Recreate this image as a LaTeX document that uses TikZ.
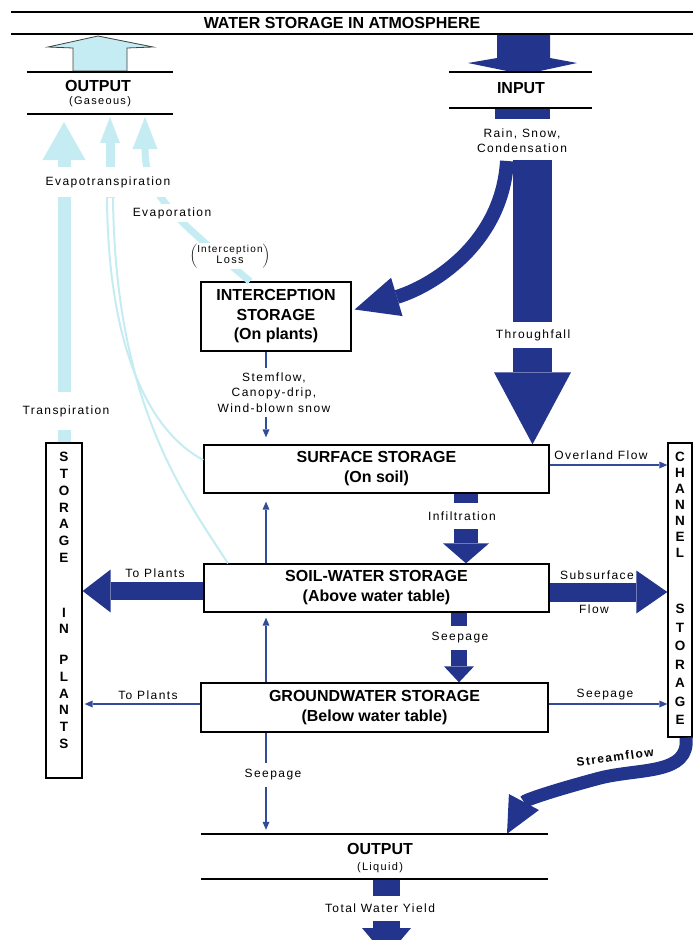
\documentclass[tikz,border=0pt]{standalone}
\usepackage{fontspec}
\setmainfont{Liberation Sans}
\newfontfamily\lblfam[LetterSpace=12]{Liberation Sans}
\usetikzlibrary{arrows.meta,calc}
\definecolor{navy}{RGB}{35,52,140}
\definecolor{thinb}{RGB}{50,75,155}
\definecolor{lblue}{RGB}{196,236,242}
\newcommand\bxf{\fontsize{16}{20}\selectfont\bfseries}
\newcommand\lbf{\lblfam\fontsize{12}{15.5}\selectfont}
\begin{document}
\begin{tikzpicture}[x=1pt,y=-1pt,
  box/.style={draw=black,line width=1.3pt,fill=white,inner sep=0pt,align=center,font=\bxf},
  band/.style={inner sep=0pt},
  hline/.style={draw=black,line width=2.4pt},
  lbl/.style={inner sep=1pt,align=center,font=\lbf},
  wlbl/.style={lbl,fill=white},
  thinarr/.style={draw=thinb,line width=2.2pt,-{Triangle[length=8pt,width=7pt,line width=0pt]}},
  vlet/.style={inner sep=0pt,align=center}
]
\useasboundingbox (0,0) rectangle (693,940);
\clip (0,0) rectangle (693,940);

% ---------- bands with lines ----------
\node[band,minimum width=682pt,minimum height=22pt] (atm) at (352,23) {};
\node[font=\bxf,inner sep=0pt] (atmT) at (342,23) {WATER STORAGE IN ATMOSPHERE};
\draw[black,line width=2pt] (atm.north west) -- (atm.north east);
\draw[black,line width=2pt] (atm.south west) -- (atm.south east);

\node[band,minimum width=146pt,minimum height=42pt] (gas) at (100,93) {};
\node[font=\bxf,inner sep=0pt] (gasT1) at (98,86) {OUTPUT};
\node[font=\lblfam\fontsize{11}{13}\selectfont,inner sep=0pt] (gasT2) at (100,102) {(Gaseous)};

\node[band,minimum width=143pt,minimum height=36pt] (inp) at (520.5,90) {};
\node[font=\bxf,inner sep=0pt] (inpT) at (521,88) {INPUT};

\node[band,minimum width=347pt,minimum height=45pt] (outL) at (374.5,856.5) {};
\node[font=\bxf,inner sep=0pt] (outT1) at (380,849) {OUTPUT};
\node[font=\lblfam\fontsize{11}{13}\selectfont,inner sep=0pt] (outT2) at (380,868) {(Liquid)};

% ---------- storage boxes ----------
\node[box,minimum width=150pt,minimum height=69pt,font=\fontsize{16}{19.5}\selectfont\bfseries] (intc) at (276,316.5) {INTERCEPTION\\STORAGE\\(On plants)};
\node[box,minimum width=345pt,minimum height=48pt] (surf) at (376.5,469) {SURFACE STORAGE\\(On soil)};
\node[box,minimum width=345pt,minimum height=48pt] (soil) at (376.5,588) {SOIL-WATER STORAGE\\(Above water table)};
\node[box,minimum width=347pt,minimum height=49pt] (grnd) at (374.5,707.5) {GROUNDWATER STORAGE\\(Below water table)};
\node[box,minimum width=36pt,minimum height=335pt] (plants) at (64,610.5) {};
\node[vlet,font=\fontsize{13.5}{16.7}\selectfont\bfseries] (plantsT) at (64,600.5)
  {S\\T\\O\\R\\A\\G\\E\\[38.3pt]I\\N\\[14.3pt]P\\L\\A\\N\\T\\S};
\node[box,minimum width=24pt,minimum height=294pt] (chan) at (680,590) {};
\node[vlet,font=\fontsize{13.5}{16}\selectfont\bfseries] (chanA) at (680,505) {C\\H\\A\\N\\N\\E\\L};
\node[vlet,font=\fontsize{13.5}{18.5}\selectfont\bfseries] (chanB) at (680,664.5) {S\\T\\O\\R\\A\\G\\E};

% ---------- reference coordinates ----------
\coordinate (stemx) at (266,0);
\coordinate (thrx) at (532.5,0);
\coordinate (infx) at (466,0);
\coordinate (seepx) at (459,0);
\coordinate (tpy) at (0,591);
\coordinate (ssy) at (0,592);
\coordinate (ovy) at (0,465);
\coordinate (gwy) at (0,704);
\coordinate (sfx) at (507,0);
\coordinate (sfsx) at (686,0);
\coordinate (twyx) at (386.5,0);
\coordinate (twyEnd) at (386.5,957);
\coordinate (bx228) at (228,0);
\coordinate (lbx) at (250,0);
\coordinate (curveTop) at (507,161);
\coordinate (thrTop) at (532.5,160);
\coordinate (ltip) at (0,122);
\coordinate (evA) at (107,197);
\coordinate (evB) at (113,197);
\coordinate (evC) at (110,198);
\coordinate (evT) at (110,117);
\coordinate (epM) at (145,150);
\coordinate (epT) at (145,117);

% ---------- light blue (gaseous) flows ----------
\filldraw[fill=lblue,draw=black!75,line width=0.8pt]
  (73,71) -- (73,48) -- (48,47) -- (98,36) -- (153,47) -- (127,48) -- (127,71) -- cycle;
\draw[lblue,line width=13pt,-{Triangle[length=38pt,width=43pt,line width=0pt]}] (plants.north) -- (plants.north |- ltip);
\draw[lblue,line width=2pt] ($(surf.west)+(0,-9)$) .. controls (150,432) and (108,350) .. (evA);
\draw[lblue,line width=2pt] (soil.north -| bx228) .. controls (180,490) and (115,400) .. (evB);
\draw[lblue,line width=9pt,-{Triangle[length=26pt,width=20pt,line width=0pt]}] (evC) -- (evT);
\draw[lblue,line width=7pt,-{Triangle[length=32pt,width=25pt,line width=0pt]}]
  (intc.north -| lbx) .. controls (180,222) and (145,195) .. (epM) -- (epT);

% ---------- dark blue (liquid) flows ----------
\fill[navy] (497,35) -- (550,35) -- (550,58) -- (577,63) -- (540,71) -- (507,71) -- (468,63) -- (497,58) -- cycle;
\fill[navy] (495,108) rectangle (550,119);
\draw[navy,line width=39pt,-{Triangle[length=72pt,width=77pt,line width=0pt]}] (thrTop) -- (surf.north -| thrx);
\draw[navy,line width=14pt,-{Triangle[length=44pt,width=40pt,line width=0pt]}]
  (curveTop) .. controls (502,245) and (430,287) .. ($(intc.east)+(3,-7)$);
\draw[navy,line width=24pt,-{Triangle[length=20pt,width=46pt,line width=0pt]}] (surf.south -| infx) -- (soil.north -| infx);
\draw[navy,line width=16pt,-{Triangle[length=16pt,width=30pt,line width=0pt]}] (soil.south -| seepx) -- (grnd.north -| seepx);
\draw[navy,line width=18pt,-{Triangle[length=28pt,width=43pt,line width=0pt]}] (soil.west |- tpy) -- (plants.east |- tpy);
\draw[navy,line width=19pt,-{Triangle[length=31pt,width=43pt,line width=0pt]}] (soil.east |- ssy) -- (chan.west |- ssy);
\draw[navy,line width=13pt,-{Triangle[length=36pt,width=34pt,line width=0pt]}]
  (chan.south -| sfsx) .. controls (690,775) and (640,768) .. (600,778)
  .. controls (555,790) and (525,800) .. (outL.north -| sfx);
\draw[navy,line width=27pt,-{Triangle[length=29pt,width=49pt,line width=0pt]}] (outL.south -| twyx) -- (twyEnd);

% ---------- thin flows ----------
\draw[thinarr,shorten >=7pt] (intc.south -| stemx) -- (surf.north -| stemx);
\draw[thinarr,shorten >=8pt] (soil.north -| stemx) -- (surf.south -| stemx);
\draw[thinarr,shorten >=5pt] (grnd.north -| stemx) -- (soil.south -| stemx);
\draw[thinarr,shorten >=4pt] (grnd.south -| stemx) -- (outL.north -| stemx);
\draw[thinarr] (surf.east |- ovy) -- (chan.west |- ovy);
\draw[thinarr,shorten >=2pt] (grnd.west |- gwy) -- (plants.east |- gwy);
\draw[thinarr] (grnd.east |- gwy) -- (chan.west |- gwy);

% ---------- band lines ----------
\draw[hline] (gas.north west) -- (gas.north east);
\draw[hline] (gas.south west) -- (gas.south east);
\draw[hline] (inp.north west) -- (inp.north east);
\draw[hline] (inp.south west) -- (inp.south east);
\draw[hline] (outL.north west) -- (outL.north east);
\draw[hline] (outL.south west) -- (outL.south east);

% ---------- labels ----------
\node[lbl] (lRain) at (522,140.5) {Rain, Snow,\\Condensation};
\node[wlbl,minimum height=26pt] (lThr) at (533,335) {Throughfall};
\node[wlbl,minimum height=26pt] (lInf) at (462,516) {Infiltration};
\node[wlbl,minimum height=24pt] (lSeep1) at (460,638) {Seepage};
\node[wlbl,minimum height=25pt] (lTwy) at (380,908) {Total Water Yield};
\node[wlbl,minimum height=49pt] (lStem) at (274,392.5) {Stemflow,\\Canopy-drip,\\Wind-blown snow};
\node[wlbl,minimum height=24pt] (lSeep2) at (273,775) {Seepage};
\node[wlbl,minimum height=30pt] (lEvt) at (108,182) {Evapotranspiration};
\node[wlbl,minimum height=18pt] (lEvp) at (172,213) {Evaporation};
\node[wlbl,font=\lblfam\fontsize{10}{11}\selectfont] (lIL) at (230,256)
  {$\biggl(\begin{tabular}{@{}c@{}}{\lblfam\fontsize{10}{11}\selectfont Interception}\\{\lblfam\fontsize{11}{12}\selectfont Loss}\end{tabular}\biggr)$};
\node[wlbl,minimum height=38pt] (lTr) at (66,411) {Transpiration};
\node[lbl] (lOv) at (601,455) {Overland Flow};
\node[lbl] (lTP1) at (155,573) {To Plants};
\node[lbl] (lSub) at (597,575) {Subsurface};
\node[lbl] (lFlow) at (594,609) {Flow};
\node[lbl] (lTP2) at (148,695) {To Plants};
\node[lbl] (lSeep3) at (605,695) {Seepage};
\node[lbl,font=\lblfam\fontsize{12}{14}\selectfont\bfseries,rotate=8] (lSF) at (615,757) {Streamflow};
\end{tikzpicture}
\end{document}
